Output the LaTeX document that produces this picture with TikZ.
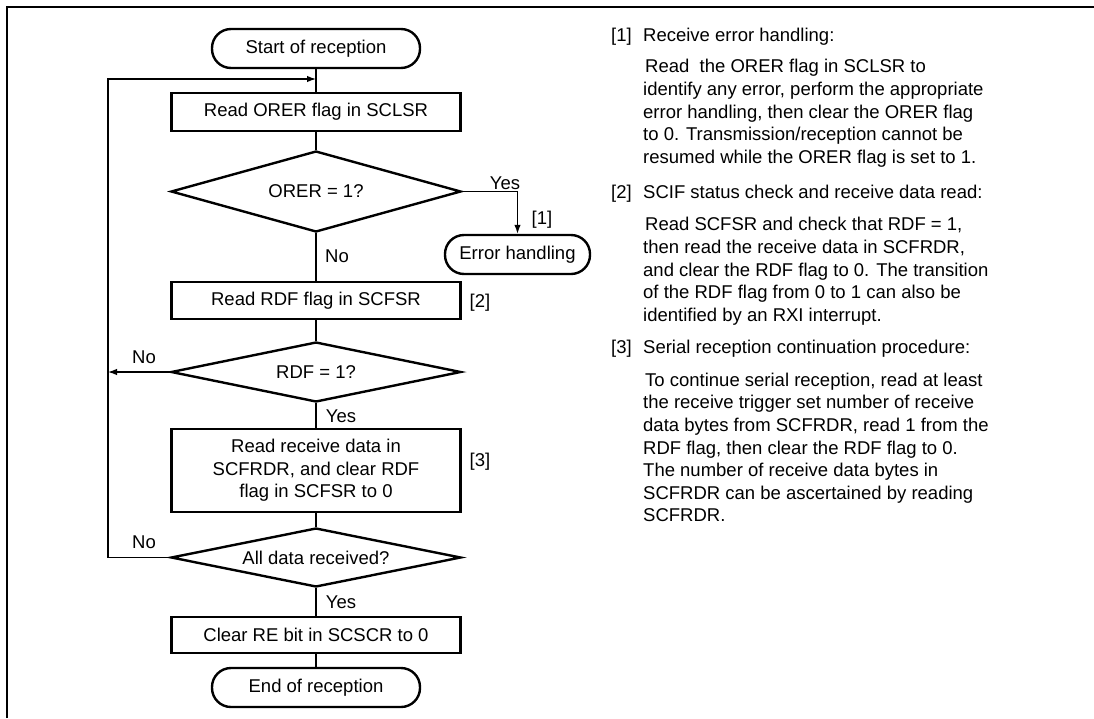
\documentclass[tikz,border=0pt]{standalone}
\usepackage{fontspec}
\setmainfont{Liberation Sans}
\usetikzlibrary{shapes.geometric,arrows.meta}
\begin{document}
\begin{tikzpicture}[x=1pt,y=-1pt,
  every node/.style={font=\fontsize{18.5}{22.6}\selectfont, inner sep=0pt},
  proc/.style={draw, line width=2.4pt, minimum width=289pt, align=center},
  term/.style={draw, line width=2.4pt, rounded corners=19pt, minimum width=208pt, minimum height=39pt},
  dec/.style={diamond, draw, line width=2.4pt, shape aspect=5, minimum width=290pt},
  conn/.style={line width=1.3pt},
  arr/.style={conn, -{Latex[length=9pt,width=6.5pt]}},
  para/.style={anchor=north west, align=left},
  lbl/.style={anchor=base west}
]
\useasboundingbox (0,0) rectangle (1094,718);
% frame
\draw[line width=2.4pt] (7,718) -- (7,7) -- (1094,7);

% flowchart nodes
\node[term] (start) at (316,48.5) {Start of reception};
\node[proc, minimum height=38pt] (orer) at (316,112) {Read ORER flag in SCLSR};
\node[dec, minimum height=81pt] (d1) at (316,191.5) {ORER = 1?};
\node[term, minimum width=145pt] (err) at (517.5,254.5) {Error handling};
\node[proc, minimum height=37pt] (rdf) at (316,300.5) {Read RDF flag in SCFSR};
\node[dec, minimum height=60pt] (d2) at (316,372) {RDF = 1?};
\node[proc, minimum height=83pt] (rd) at (316,470.5) {Read receive data in\\SCFRDR, and clear RDF\\flag in SCFSR to 0};
\node[dec, minimum height=59pt] (d3) at (316,557.5) {All data received?};
\node[proc, minimum height=36pt] (clr) at (316,635) {Clear RE bit in SCSCR to 0};
\node[term] (end) at (316,687.5) {End of reception};

\coordinate (join) at (316,79);
\coordinate (loopTop) at (108,79);

% connectors
\draw[conn] (start) -- (orer);
\draw[conn] (orer) -- (d1);
\draw[conn] (d1) -- (rdf);
\draw[arr] (d1.east) -| (err.north);
\draw[conn] (rdf) -- (d2);
\draw[conn] (d2) -- (rd);
\draw[conn] (rd) -- (d3);
\draw[conn] (d3) -- (clr);
\draw[conn] (clr) -- (end);
\draw[arr] (d3.west) -| (loopTop) -- (join);
\draw[arr] (d2.west) -- (d2.west -| loopTop);

% flowchart labels
\node (yes1) at (505,183) {Yes};
\node (n1) at (542,220) {[1]};
\node (no1) at (337,256) {No};
\node (n2) at (480,303) {[2]};
\node (no2) at (144,357) {No};
\node (yes2) at (341,416) {Yes};
\node (n3) at (480,462) {[3]};
\node (no3) at (144,542) {No};
\node (yes3) at (341,602) {Yes};

% notes
\node[lbl] (h1n) at (611,41.6) {[1]};
\node[lbl] (h1t) at (643,41.6) {Receive error handling:};
\node[para] (p1) at (643,59.2) {\hspace{2pt}Read\ \ the ORER flag in SCLSR to\\identify any error, perform the appropriate\\error handling, then clear the ORER flag\\to 0. Transmission/reception cannot be\\resumed while the ORER flag is set to 1.};
\node[lbl] (h2n) at (611,198.6) {[2]};
\node[lbl] (h2t) at (643,198.6) {SCIF status check and receive data read:};
\node[para] (p2) at (643,217.2) {\hspace{2pt}Read SCFSR and check that RDF = 1,\\then read the receive data in SCFRDR,\\and clear the RDF flag to 0. The transition\\of the RDF flag from 0 to 1 can also be\\identified by an RXI interrupt.};
\node[lbl] (h3n) at (611,353.6) {[3]};
\node[lbl] (h3t) at (643,353.6) {Serial reception continuation procedure:};
\node[para] (p3) at (643,372.7) {\hspace{2pt}To continue serial reception, read at least\\the receive trigger set number of receive\\data bytes from SCFRDR, read 1 from the\\RDF flag, then clear the RDF flag to 0.\\The number of receive data bytes in\\SCFRDR can be ascertained by reading\\SCFRDR.};
\end{tikzpicture}
\end{document}
